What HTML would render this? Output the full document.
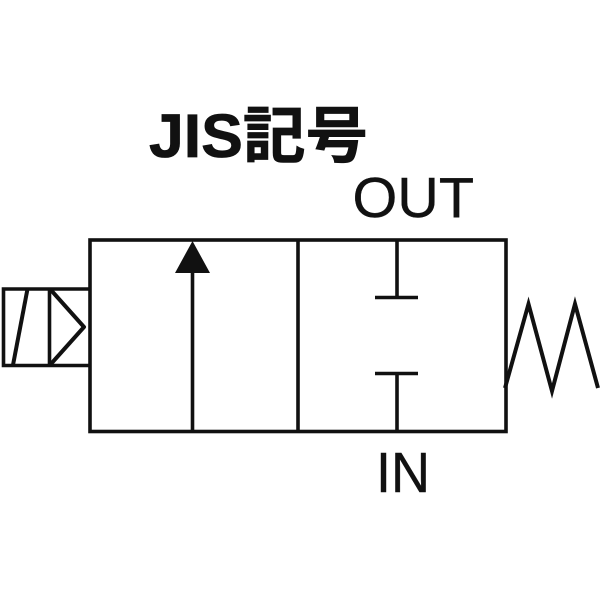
<!DOCTYPE html>
<html>
<head>
<meta charset="utf-8">
<style>
html,body{margin:0;padding:0;background:#fff;width:600px;height:600px;overflow:hidden}
svg{display:block;filter:blur(0.35px)}
</style>
</head>
<body>
<svg width="600" height="600" viewBox="0 0 600 600" xmlns="http://www.w3.org/2000/svg">
<rect width="600" height="600" fill="#fff"/>
<g fill="none" stroke="#111" stroke-width="3.600">
<rect x="90" y="240" width="416" height="191.500"/>
<line x1="298" y1="240" x2="298" y2="431"/>
<line x1="192.500" y1="270" x2="192.500" y2="431"/>
<polyline points="89,289 3.500,289 3.500,365.500 89,365.500"/>
<line x1="27.500" y1="289" x2="13" y2="365" stroke-width="4"/>
<line x1="49.500" y1="289" x2="49.500" y2="365"/>
<polyline points="50,289 84,327 50,365" stroke-linejoin="round" stroke-width="4"/>
<line x1="397" y1="241" x2="397" y2="297"/>
<line x1="375" y1="297.500" x2="418" y2="297.500"/>
<line x1="397" y1="374" x2="397" y2="431"/>
<line x1="375" y1="373.500" x2="418" y2="373.500"/>
<polyline points="505,388 528.500,304 552,391 575,304 598,388" stroke-width="4"/>
</g>
<polygon points="192.500,241 210,273 175,273" fill="#111"/>
<text x="149" y="157" font-family="'Liberation Sans','Noto Sans CJK JP',sans-serif" font-size="61" font-weight="700" fill="#111" stroke="#111" stroke-width="0.8" textLength="219" lengthAdjust="spacingAndGlyphs">JIS記号</text>
<text x="352.500" y="217" font-family="'Liberation Sans',sans-serif" font-size="57" fill="#111" stroke="#111" stroke-width="0.4" textLength="121.500" lengthAdjust="spacingAndGlyphs">OUT</text>
<text x="376" y="492" font-family="'Liberation Sans',sans-serif" font-size="57" fill="#111" stroke="#111" stroke-width="0.4" textLength="54" lengthAdjust="spacingAndGlyphs">IN</text>
</svg>
</body>
</html>
